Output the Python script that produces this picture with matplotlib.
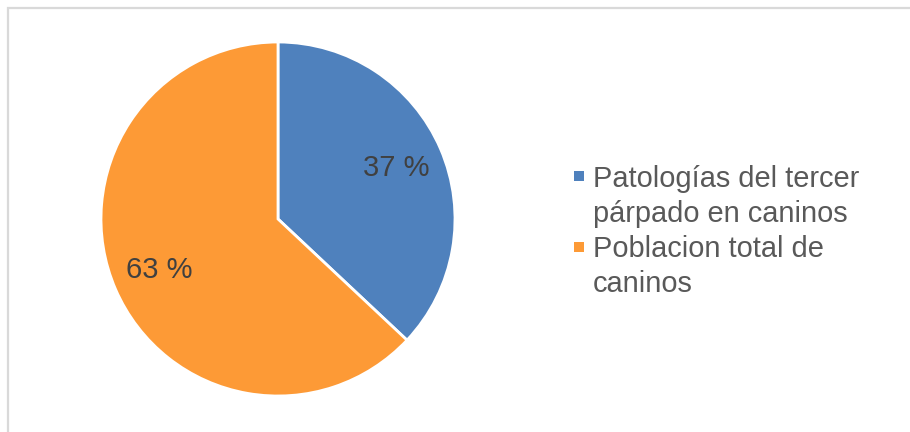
import matplotlib
matplotlib.use("Agg")
import matplotlib.pyplot as plt
from matplotlib.patches import Rectangle

categories = ["Patologías del tercer\npárpado en caninos", "Poblacion total de\ncaninos"]
values = [37, 63]
colors = ["#4F81BD", "#FD9A36"]

plt.rcParams['font.family'] = ['Liberation Sans', 'DejaVu Sans']

W, H = 910, 432
fig = plt.figure(figsize=(W / 100, H / 100), dpi=100)

# chart border (top & left visible, extends past image)
fig.patches.append(Rectangle((8 / W, -0.1), 1.2, (1 - 8 / H) + 0.1,
                             transform=fig.transFigure, fill=False,
                             edgecolor="#D9D9D9", linewidth=1.6))

cx, cy, r = 278, 219, 177
ax = fig.add_axes([(cx - r) / W, (H - cy - r) / H, 2 * r / W, 2 * r / H])
wedges, texts, autotexts = ax.pie(
    values, colors=colors, startangle=90, counterclock=False, radius=1,
    autopct=lambda p: f"{p:.0f} %", pctdistance=0.73,
    wedgeprops=dict(edgecolor="white", linewidth=2.0),
    textprops=dict(fontsize=21, color="#404040"))
ax.set_xlim(-1, 1)
ax.set_ylim(-1, 1)
ax.set_aspect("equal")
ax.axis("off")

# legend drawn manually
tx = 593
baselines = [[187, 222], [257, 292]]
sq_centers = [176.5, 247]
sq = 10
for lab, col, bls, sc in zip(categories, colors, baselines, sq_centers):
    fig.patches.append(Rectangle((574 / W, (H - sc - sq / 2) / H), sq / W, sq / H,
                                 transform=fig.transFigure, facecolor=col,
                                 edgecolor="none"))
    for line, bl in zip(lab.split("\n"), bls):
        fig.text(tx / W, (H - bl) / H, line, fontsize=20.9, color="#595959",
                 va="baseline", ha="left")

fig.savefig("out.png", dpi=100, facecolor="white")
